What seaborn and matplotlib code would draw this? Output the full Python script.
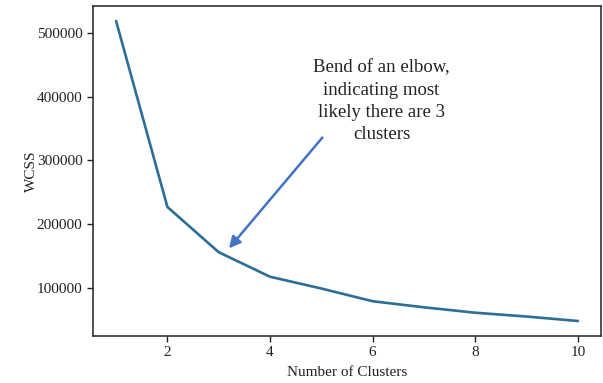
import matplotlib
matplotlib.use("Agg")
import matplotlib.pyplot as plt
import seaborn as sns
import pandas as pd

clusters = [1, 2, 3, 4, 5, 6, 7, 8, 9, 10]
wcss = [519000, 227000, 156000, 117500, 99000, 79000, 69500, 61000, 55000, 48000]
annotation_text = "Bend of an elbow,\nindicating most\nlikely there are 3\nclusters"

sns.set_style("ticks")
plt.rcParams['font.family'] = ['Liberation Serif', 'DejaVu Serif']

df = pd.DataFrame({"Number of Clusters": clusters, "WCSS": wcss})

fig, ax = plt.subplots(figsize=(6.03, 3.83), dpi=100)
fig.subplots_adjust(left=93/603, right=601/603, top=1-6/383, bottom=1-336/383)

sns.lineplot(data=df, x="Number of Clusters", y="WCSS", ax=ax,
             color="#2d6e96", linewidth=1.9)

ax.set_xticks([2, 4, 6, 8, 10])
ax.set_yticks([100000, 200000, 300000, 400000, 500000])
ax.tick_params(labelsize=11, colors="#222222", width=1, length=4)
for s in ax.spines.values():
    s.set_color("#333333")
    s.set_linewidth(1.2)
ax.set_xlabel("Number of Clusters", fontsize=11, color="#222222", labelpad=5)
ax.set_ylabel("WCSS", fontsize=11, color="#222222", labelpad=-1)

ax.text(6.17, 393000, annotation_text, ha="center", va="center",
        fontsize=13.5, color="#222222", linespacing=1.4)

ax.annotate("", xy=(3.2, 162000), xytext=(5.02, 336000),
            arrowprops=dict(arrowstyle="-|>", color="#4472c4", lw=1.8,
                            mutation_scale=17, shrinkA=0, shrinkB=0))

fig.savefig("out.png", dpi=100)
